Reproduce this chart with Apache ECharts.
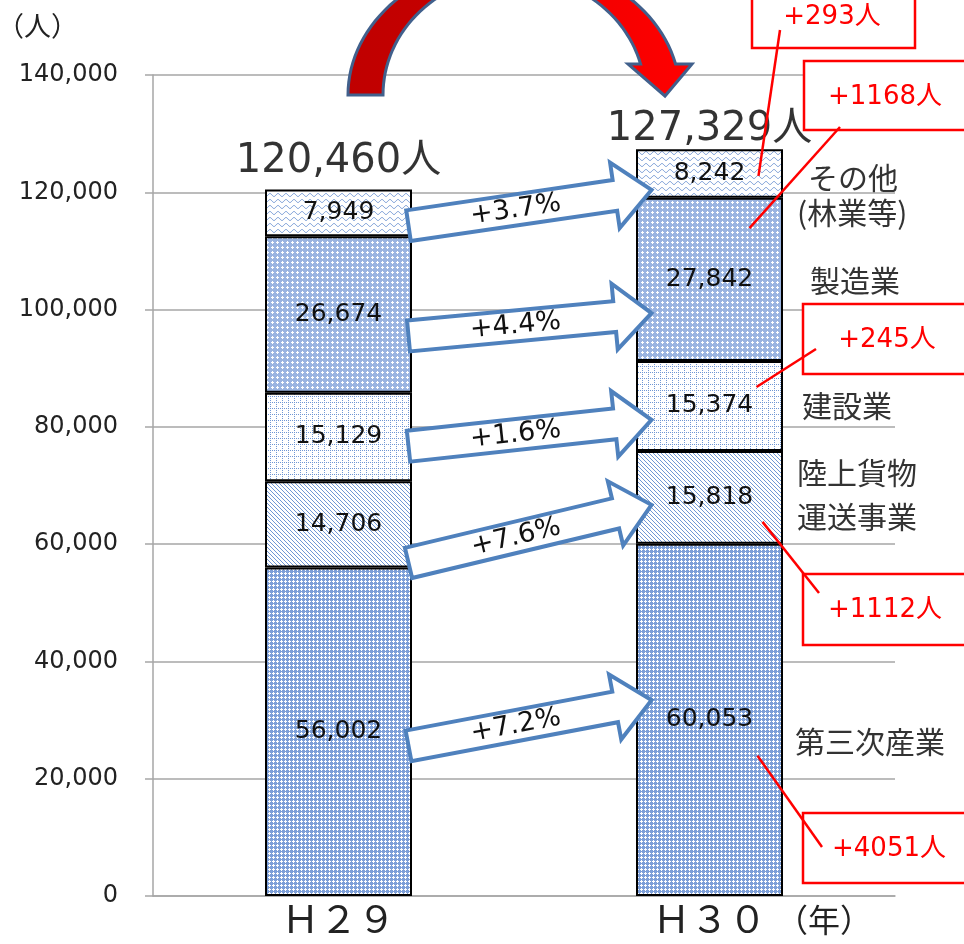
<!DOCTYPE html>
<html>
<head>
<meta charset="utf-8">
<script src="https://cdn.jsdelivr.net/npm/echarts@6/dist/echarts.min.js"></script>
<style>
  html, body { margin: 0; padding: 0; background: #fff; }
  #chart { width: 964px; height: 944px; }
</style>
</head>
<body>
<div id="chart"></div>
<script>
// 年度と業種別の人数（人）
const years = ['Ｈ２９', 'Ｈ３０'];
const industryNames = ['第三次産業', '陸上貨物運送事業', '建設業', '製造業', 'その他(林業等)'];
const tertiary = [56002, 60053];
const freight = [14706, 15818];
const construction = [15129, 15374];
const manufacturing = [26674, 27842];
const others = [7949, 8242];
const yMin = 0, yMax = 140000, yStep = 20000;

// 増減矢印の始点・終点（人数軸上の位置）
const arrowStartValues = [25600, 56800, 76700, 95500, 114300];
const arrowEndValues = [33400, 66700, 81200, 99400, 120400];

// 右側の業種ラベルの縦位置（人数軸上の位置）
const sideLabelLines = [['第三次産業'], ['陸上貨物', '運送事業'], ['建設業'], ['製造業'], ['その他', '(林業等)']];
const sideLabelValues = [26400, 68500, 83700, 105000, 119500];

// 増加人数の吹き出しが指す位置（人数軸上の位置）
const calloutPointValues = [23900, 63800, 86800, 113900, 122800];

const seriesValues = [tertiary, freight, construction, manufacturing, others];
const totals = years.map((_, i) => seriesValues.reduce((s, arr) => s + arr[i], 0));

const NUM_FONT = '"DejaVu Sans", "Noto Sans CJK JP", sans-serif';
const JP_FONT = '"Noto Sans CJK JP", sans-serif';

function makePattern(w, h, draw) {
  const c = document.createElement('canvas');
  c.width = w; c.height = h;
  const ctx = c.getContext('2d');
  draw(ctx);
  return { image: c, repeat: 'repeat' };
}

// 塗りつぶしパターン
const patTertiary = makePattern(4, 4, ctx => {
  ctx.fillStyle = '#7d9fd8'; ctx.fillRect(0, 0, 4, 4);
  ctx.fillStyle = '#ffffff';
  ctx.fillRect(1, 0, 1, 3); ctx.fillRect(0, 1, 3, 1);
});
const patFreight = makePattern(4, 4, ctx => {
  ctx.fillStyle = '#ffffff'; ctx.fillRect(0, 0, 4, 4);
  ctx.fillStyle = '#7097d4';
  for (let i = 0; i < 4; i++) ctx.fillRect(i, i, 1, 1);
});
const patConstruction = makePattern(6, 6, ctx => {
  ctx.fillStyle = '#ffffff'; ctx.fillRect(0, 0, 6, 6);
  ctx.fillStyle = '#7097d4';
  for (let i = 0; i < 6; i += 2) { ctx.fillRect(i, 0, 1, 1); ctx.fillRect(0, i, 1, 1); }
});
const patManufacturing = makePattern(5, 5, ctx => {
  ctx.fillStyle = '#9ab4e1'; ctx.fillRect(0, 0, 5, 5);
  ctx.fillStyle = '#ffffff';
  ctx.fillRect(2, 1, 1, 3); ctx.fillRect(1, 2, 3, 1);
});
const patOthers = makePattern(8, 6, ctx => {
  ctx.fillStyle = '#ffffff'; ctx.fillRect(0, 0, 8, 6);
  ctx.strokeStyle = '#6f95d3'; ctx.lineWidth = 1;
  ctx.beginPath();
  for (let x = -1; x <= 9; x += 0.5) {
    const y = 3 + 1.5 * Math.sin((x / 8) * Math.PI * 2);
    if (x === -1) ctx.moveTo(x, y); else ctx.lineTo(x, y);
  }
  ctx.stroke();
});
const patterns = [patTertiary, patFreight, patConstruction, patManufacturing, patOthers];

const barSeries = industryNames.map((name, k) => ({
  name,
  type: 'bar',
  stack: 'total',
  barWidth: 147,
  data: seriesValues[k],
  itemStyle: { color: patterns[k], borderColor: '#000', borderWidth: 2 },
  label: {
    show: true,
    position: 'inside',
    fontFamily: NUM_FONT,
    fontSize: 25,
    color: '#111',
    formatter: p => p.value.toLocaleString('en-US')
  },
  z: 2
}));

const option = {
  animation: false,
  grid: { left: 153, right: 69, top: 75, bottom: 48 },
  xAxis: {
    type: 'category',
    data: years,
    axisLine: { lineStyle: { color: '#a6a6a6', width: 1.5 } },
    axisTick: { show: false },
    axisLabel: { fontFamily: JP_FONT, fontSize: 38, color: '#222', margin: 4 }
  },
  yAxis: {
    type: 'value',
    min: yMin, max: yMax, interval: yStep,
    axisLine: { show: true, lineStyle: { color: '#a6a6a6', width: 1.5 } },
    axisTick: { show: true, length: 8, lineStyle: { color: '#a6a6a6', width: 1.5 } },
    splitLine: { lineStyle: { color: '#a6a6a6', width: 1.5 } },
    axisLabel: {
      fontFamily: NUM_FONT, fontSize: 24, color: '#222', margin: 35,
      formatter: v => v.toLocaleString('en-US')
    }
  },
  series: barSeries.concat([{
    type: 'scatter',
    symbolSize: 0,
    data: [
      { value: totals[0], label: { distance: 8 } },
      { value: totals[1], label: { distance: 0 } }
    ],
    label: {
      show: true,
      position: 'top',
      fontFamily: NUM_FONT,
      fontSize: 40,
      color: '#000',
      formatter: p => p.value.toLocaleString('en-US') + '人'
    },
    z: 5
  }])
};

const chart = echarts.init(document.getElementById('chart'), null, { renderer: 'canvas' });
chart.setOption(option);

function buildGraphics() {
  const toPx = (c, v) => chart.convertToPixel({ gridIndex: 0 }, [c, v]);
  const cx0 = toPx(0, 0)[0];
  const cx1 = toPx(1, 0)[0];
  const els = [];

  // 増減率のブロック矢印
  for (let k = 0; k < 5; k++) {
    const p0 = [cx0 + 70, toPx(0, arrowStartValues[k])[1]];
    const p1 = [cx1 - 58, toPx(1, arrowEndValues[k])[1]];
    const dx = p1[0] - p0[0], dy = p1[1] - p0[1];
    const L = Math.hypot(dx, dy);
    const u = [dx / L, dy / L];
    const n = [-u[1], u[0]];
    const bodyHalf = 15.5, headHalf = 33, headLen = 37;
    const at = (t, s) => [p0[0] + u[0] * t + n[0] * s, p0[1] + u[1] * t + n[1] * s];
    const pts = [
      at(0, -bodyHalf), at(L - headLen, -bodyHalf), at(L - headLen, -headHalf),
      p1.slice(),
      at(L - headLen, headHalf), at(L - headLen, bodyHalf), at(0, bodyHalf)
    ];
    els.push({
      type: 'polygon', z: 10,
      shape: { points: pts },
      style: { fill: '#ffffff', stroke: '#4f81bd', lineWidth: 4, lineJoin: 'miter' }
    });
    const rate = (seriesValues[k][1] / seriesValues[k][0] - 1) * 100;
    const mid = at((L - headLen) / 2 + 4, 0);
    els.push({
      type: 'text', z: 11,
      x: mid[0], y: mid[1],
      rotation: -Math.atan2(dy, dx),
      style: {
        text: '+' + rate.toFixed(1) + '%',
        font: '27px ' + NUM_FONT,
        fill: '#111', align: 'center', verticalAlign: 'middle'
      }
    });
  }

  // 右側の業種ラベル
  const sideX = [795, 797, 802, 810, 808];
  const sideLH = [30, 44, 30, 30, 35];
  sideLabelLines.forEach((lines, k) => {
    const yc = toPx(1, sideLabelValues[k])[1];
    lines.forEach((t, j) => {
      const off = (j - (lines.length - 1) / 2) * sideLH[k];
      let x = sideX[k];
      if (t === '(林業等)') x = 797;
      els.push({
        type: 'text', z: 12,
        x: x, y: yc + off,
        style: { text: t, font: '30px ' + JP_FONT, fill: '#333', align: 'left', verticalAlign: 'middle' }
      });
    });
  });

  // 増加人数の吹き出し
  const boxes = [
    { rect: [803, 813, 180, 70], text: [889, 849], end: [822, 847], dx: 48 },
    { rect: [803, 574, 180, 71], text: [885, 610], end: [819, 593], dx: 53 },
    { rect: [803, 304, 180, 70], text: [887, 340], end: [816, 349], dx: 47 },
    { rect: [804, 61, 180, 69], text: [885, 97], end: [840, 127], dx: 40 },
    { rect: [752, -6, 163, 54], text: [832, 17], end: [780, 30], dx: 49 }
  ];
  boxes.forEach((b, k) => {
    const diff = seriesValues[k][1] - seriesValues[k][0];
    els.push({
      type: 'rect', z: 20,
      shape: { x: b.rect[0], y: b.rect[1], width: b.rect[2], height: b.rect[3] },
      style: { fill: '#ffffff', stroke: '#ff0000', lineWidth: 2.5 }
    });
    els.push({
      type: 'text', z: 21,
      x: b.text[0], y: b.text[1],
      style: { text: '+' + diff + '人', font: '26px ' + NUM_FONT, fill: '#ff0000', align: 'center', verticalAlign: 'middle' }
    });
    const py = toPx(1, calloutPointValues[k])[1];
    els.push({
      type: 'line', z: 22,
      shape: { x1: cx1 + b.dx, y1: py, x2: b.end[0], y2: b.end[1] },
      style: { stroke: '#ff0000', lineWidth: 2.5 }
    });
  });

  // 上部の湾曲矢印
  const ecx = 514, ecy = 95;
  const oa = 166, ob = 135, ia = 131, ib = 120;
  const cutY = 64;
  const tO = Math.asin((ecy - cutY) / ob);
  const tI = Math.asin((ecy - cutY) / ib);
  const curve = [];
  const N = 60;
  for (let i = 0; i <= N; i++) {
    const t = Math.PI + (tO - Math.PI) * i / N;
    curve.push([ecx + oa * Math.cos(t), ecy - ob * Math.sin(t)]);
  }
  curve.push([692, cutY]);
  curve.push([665, 96]);
  curve.push([628, cutY]);
  for (let i = N; i >= 0; i--) {
    const t = Math.PI + (tI - Math.PI) * i / N;
    curve.push([ecx + ia * Math.cos(t), ecy - ib * Math.sin(t)]);
  }
  els.push({
    type: 'polygon', z: 15,
    shape: { points: curve },
    style: {
      fill: new echarts.graphic.LinearGradient(0, 0, 1, 0, [
        { offset: 0, color: '#c00000' },
        { offset: 0.45, color: '#c80000' },
        { offset: 0.6, color: '#f00000' },
        { offset: 1, color: '#ff0000' }
      ]),
      stroke: '#41608c', lineWidth: 3, lineJoin: 'miter'
    }
  });

  // 軸の単位
  els.push({
    type: 'text', z: 12, x: -3, y: 26,
    style: { text: '（人）', font: '27px ' + JP_FONT, fill: '#222', align: 'left', verticalAlign: 'middle' }
  });
  els.push({
    type: 'text', z: 12, x: 776, y: 920,
    style: { text: '（年）', font: '32px ' + JP_FONT, fill: '#222', align: 'left', verticalAlign: 'middle' }
  });
  return els;
}

chart.setOption({ graphic: { elements: buildGraphics() } });
</script>
</body>
</html>
